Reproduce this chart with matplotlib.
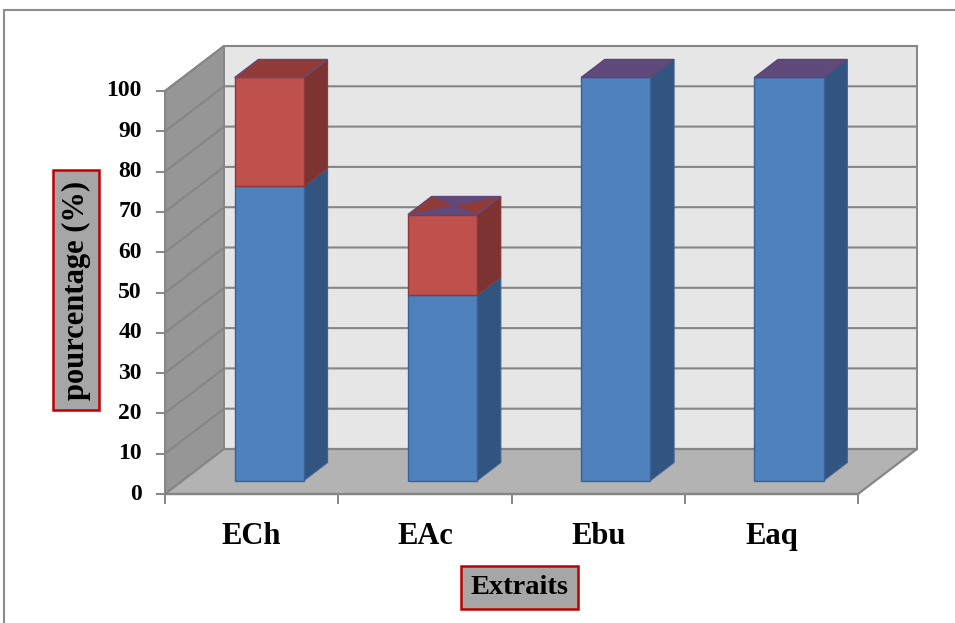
import matplotlib
matplotlib.use("Agg")
import matplotlib.pyplot as plt
from matplotlib.patches import Polygon, Rectangle

# ---- data -------------------------------------------------------------
categories = ["ECh", "EAc", "Ebu", "Eaq"]
serie_bleue = [73, 46, 100, 100]
serie_rouge = [27, 20, 0, 0]
yticks = [0, 10, 20, 30, 40, 50, 60, 70, 80, 90, 100]
ytitle = "pourcentage (%)"
xtitle = "Extraits"

# ---- figure / pseudo-3D geometry --------------------------------------
W, H = 955, 623
DPI = 100
fig = plt.figure(figsize=(W / DPI, H / DPI), dpi=DPI)
ax = fig.add_axes([0, 0, 1, 1])
ax.axis("off")

X0_PX, Y0_PX = 165, 494          # front-left corner of the floor (pixels)
PX_PER_CAT = 173.25
PX_PER_VAL = 4.03
ax.set_xlim(-X0_PX / PX_PER_CAT, (W - X0_PX) / PX_PER_CAT)
ax.set_ylim(-(H - Y0_PX) / PX_PER_VAL, Y0_PX / PX_PER_VAL)

NCAT = len(categories)
VMAX = yticks[-1]
DX = 59 / PX_PER_CAT             # depth vector in data units
DY = 45 / PX_PER_VAL
D0, D1 = 0.3, 0.7                # bar depth span (fraction of the floor depth)
BAR_W = 0.4


def P(x, v, d):
    return (x + d * DX, v + d * DY)


def poly(pts, fc, ec=None, lw=0.8, z=1):
    ax.add_patch(Polygon(pts, closed=True, facecolor=fc,
                         edgecolor=ec if ec else fc, linewidth=lw,
                         zorder=z, joinstyle="miter"))


GRID = "#868686"
# walls and floor
poly([P(0, 0, 1), P(NCAT, 0, 1), P(NCAT, VMAX, 1), P(0, VMAX, 1)],
     "#e6e6e6", GRID, 1.4, 1)
poly([P(0, 0, 0), P(0, 0, 1), P(0, VMAX, 1), P(0, VMAX, 0)],
     "#969696", GRID, 1.4, 1)
poly([P(0, 0, 0), P(NCAT, 0, 0), P(NCAT, 0, 1), P(0, 0, 1)],
     "#b3b3b3", GRID, 1.6, 2)

# gridlines on back and side walls
for v in yticks[1:]:
    xs, ys = zip(P(0, v, 0), P(0, v, 1), P(NCAT, v, 1))
    ax.plot(xs, ys, color=GRID, lw=1.5, zorder=1.5, solid_capstyle="butt")

# value axis and ticks
tick_x = 8 / PX_PER_CAT
ax.plot([0, 0], [0, VMAX], color=GRID, lw=1.4, zorder=3)
for v in yticks:
    ax.plot([-tick_x, 0], [v, v], color=GRID, lw=1.4, zorder=3)
    ax.annotate(str(v), (0, v), xytext=(-23, 0), textcoords="offset pixels",
                ha="right", va="center", fontsize=17, fontweight="bold",
                family="Liberation Serif", color="black")

# category axis and ticks
tick_v = 9 / PX_PER_VAL
ax.plot([0, NCAT], [0, 0], color=GRID, lw=1.6, zorder=3)
for i in range(NCAT + 1):
    ax.plot([i, i], [0, -tick_v], color=GRID, lw=1.4, zorder=3)
for i, cat in enumerate(categories):
    ax.annotate(cat, (i + 0.5, 0), xytext=(0, -50), textcoords="offset pixels",
                ha="center", va="baseline", fontsize=22, fontweight="bold",
                family="Liberation Serif", color="black")

# bars
BLUE = dict(front="#4f81bd", side="#325580", edge="#3a629a")
RED = dict(front="#c0504d", side="#7d3331", top="#913b39", edge="#8c3836")
PURPLE = "#604a7b"


def prism(x0, x1, v0, v1, col, z):
    poly([P(x1, v0, D0), P(x1, v0, D1), P(x1, v1, D1), P(x1, v1, D0)],
         col["side"], col["edge"], 0.8, z)
    poly([P(x0, v0, D0), P(x1, v0, D0), P(x1, v1, D0), P(x0, v1, D0)],
         col["front"], col["edge"], 1.0, z)


for i, (b, r) in enumerate(zip(serie_bleue, serie_rouge)):
    x0, x1 = i + 0.5 - BAR_W / 2, i + 0.5 + BAR_W / 2
    prism(x0, x1, 0, b, BLUE, 4)
    top = b + r
    fl, fr = P(x0, top, D0), P(x1, top, D0)
    br, bl = P(x1, top, D1), P(x0, top, D1)
    if r > 0:
        prism(x0, x1, b, top, RED, 5)
        poly([fl, fr, br, bl], RED["top"], PURPLE, 1.0, 6)
        if r < 25:
            cx = (fl[0] + br[0]) / 2
            cy = (fl[1] + br[1]) / 2
            poly([fl, fr, (cx, cy)], PURPLE, None, 0.3, 6.5)
            poly([bl, br, (cx, cy)], PURPLE, None, 0.3, 6.5)
    else:
        poly([fl, fr, br, bl], PURPLE, "#5a4675", 1.0, 6)

# axis titles in framed boxes
BOX_FC, BOX_EC = "#a6a6a6", "#c00000"


def framed(x0, y0, x1, y1, text, size, rot):
    fig.patches.append(Rectangle((x0 / W, 1 - y1 / H), (x1 - x0) / W,
                                 (y1 - y0) / H, transform=fig.transFigure,
                                 facecolor=BOX_FC, edgecolor=BOX_EC,
                                 linewidth=1.8, zorder=5))
    fig.text((x0 + x1) / 2 / W, 1 - (y0 + y1) / 2 / H, text, rotation=rot,
             ha="center", va="center", fontsize=size, fontweight="bold",
             family="Liberation Serif", color="black", zorder=6)


framed(53, 170, 99, 410, ytitle, 22, 90)
framed(461, 566, 578, 609, xtitle, 20.5, 0)

# outer chart frame (top and left edges visible)
fig.patches.append(Rectangle((4 / W, -0.1), 1.2, 1.1 - 10 / H,
                             transform=fig.transFigure, facecolor="none",
                             edgecolor="#8c8c8c", linewidth=1.5, zorder=0))

fig.savefig("out.png", dpi=DPI)
